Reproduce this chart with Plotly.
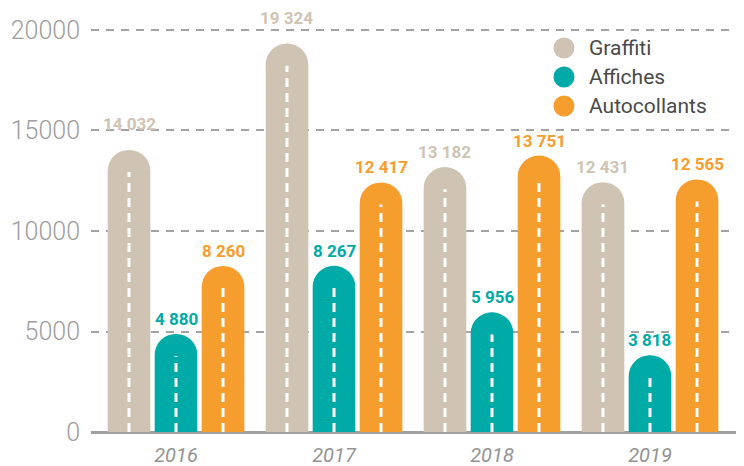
import plotly.graph_objects as go

years = ["2016", "2017", "2018", "2019"]
series_names = ["Graffiti", "Affiches", "Autocollants"]
graffiti = [14032, 19324, 13182, 12431]
affiches = [4880, 8267, 5956, 3818]
autocollants = [8260, 12417, 13751, 12565]
y_ticks = [0, 5000, 10000, 15000, 20000]

values = [graffiti, affiches, autocollants]
colors = ["#cfc4b3", "#00aaa6", "#f59d2d"]

# layout / style parameters
step = 0.2975
bar_w = 0.27
dash_gap_units = 1100
label_shift = [[14, 14, 3, 3], [3, 3, 3, 3], [3, 3, 3, 3]]

def fmt(v):
    return f"{v:,}".replace(",", " ")

fig = go.Figure()
annotations = []
for k, (name, vals, col) in enumerate(zip(series_names, values, colors)):
    xs = [i + (k - 1) * step for i in range(len(years))]
    fig.add_trace(go.Bar(
        x=xs, y=vals, width=bar_w, name=name,
        marker=dict(color=col, cornerradius="50%", line=dict(width=0)),
        showlegend=False, hoverinfo="y"))
    for j, (x, v) in enumerate(zip(xs, vals)):
        fig.add_trace(go.Scatter(
            x=[x, x], y=[0, v - dash_gap_units], mode="lines",
            line=dict(color="white", width=3, dash="9px,6px"),
            showlegend=False, hoverinfo="skip"))
        annotations.append(dict(
            x=x, y=v, text=fmt(v), showarrow=False, yanchor="bottom",
            yshift=label_shift[k][j],
            font=dict(family="Roboto", size=17, color=col, weight="bold")))

# legend drawn as circles + labels
shapes = []
legend_y0 = 0.9057
for k, (name, col) in enumerate(zip(series_names, colors)):
    yp = legend_y0 - k * 0.0684
    shapes.append(dict(type="circle", xref="paper", yref="paper",
                       xsizemode="pixel", ysizemode="pixel",
                       xanchor=0.7243, yanchor=yp,
                       x0=-10.5, x1=10.5, y0=-10.5, y1=10.5,
                       fillcolor=col, line=dict(width=0)))
    annotations.append(dict(xref="paper", yref="paper", x=0.7596, y=yp,
                            xanchor="left", yanchor="middle", text=name,
                            showarrow=False,
                            font=dict(family="Roboto", size=21, color="#4a4a4a")))

fig.update_layout(
    width=736, height=458,
    margin=dict(l=83, r=0, t=0, b=34),
    paper_bgcolor="white", plot_bgcolor="white",
    barmode="overlay",
    annotations=annotations, shapes=shapes,
    xaxis=dict(range=[-0.538, 3.595], tickmode="array",
               tickvals=list(range(len(years))), ticktext=years,
               showgrid=False, zeroline=False, showline=False, ticks="",
               ticklabelstandoff=9,
               tickfont=dict(family="Roboto", size=20, color="#939393", style="italic")),
    yaxis=dict(range=[0, 21094], tickmode="array", tickvals=y_ticks,
               ticktext=[str(t) for t in y_ticks],
               showgrid=True, gridcolor="#a3a3a3", gridwidth=2, griddash="8px,7px",
               zeroline=True, zerolinecolor="#a0a0a0", zerolinewidth=3,
               showline=False, ticks="", ticklabelstandoff=10,
               tickfont=dict(family="Roboto", size=25, color="#9d9d9d", weight=300)),
)

fig.write_html("out.html")
